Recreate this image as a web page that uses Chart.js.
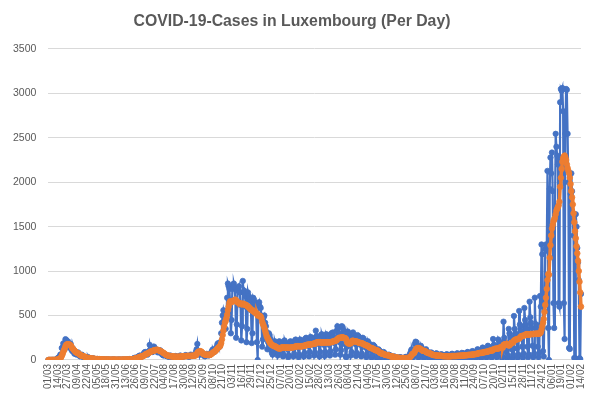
<!DOCTYPE html>
<html>
<head>
<meta charset="utf-8">
<script src="https://cdn.jsdelivr.net/npm/chart.js@4.4.1/dist/chart.umd.min.js"></script>
<style>
html,body{margin:0;padding:0;background:#fff;}
#wrap{width:597px;height:405px;position:relative;}
</style>
</head>
<body>
<div id="wrap"><canvas id="c"></canvas></div>
<script>
const chartTitle = 'COVID-19-Cases in Luxembourg (Per Day)';
const tickLabels = ['01/03','14/03','27/03','09/04','22/04','05/05','18/05','31/05','13/06','26/06','09/07','22/07','04/08','17/08','30/08','12/09','25/09','08/10','21/10','03/11','16/11','29/11','12/12','25/12','07/01','20/01','02/02','15/02','28/02','13/03','26/03','08/04','21/04','04/05','17/05','30/05','12/06','25/06','08/07','21/07','03/08','16/08','29/08','11/09','24/09','07/10','20/10','02/11','15/11','28/11','11/12','24/12','06/01','19/01','01/02','14/02'];
const tickEvery = 13;
const yTicks = [0,500,1000,1500,2000,2500,3000,3500];

// daily new cases, one row per week (Sun..Sat), from 01/03/2020 to 14/02/2022
const dailyCases = [
0,0,0,0,0,1,1,
1,0,2,2,7,12,26,
20,35,59,63,135,139,186,
152,180,234,224,190,210,160,
140,150,180,120,100,130,90,
70,95,80,60,75,85,65,
45,40,55,60,50,30,35,
25,20,30,20,35,15,20,
12,10,18,15,20,10,12,
8,5,10,12,8,6,10,
5,4,8,6,7,3,5,
4,2,6,5,3,4,2,
3,2,5,4,6,3,2,
2,1,4,3,5,2,3,
3,2,5,4,6,3,4,
4,3,6,8,10,5,7,
8,10,15,20,25,18,22,
30,25,40,45,50,40,38,
45,50,70,85,90,80,70,
60,80,100,170,120,100,90,
90,100,150,130,120,110,95,
85,90,100,110,95,70,60,
55,50,60,55,50,45,40,
40,35,45,50,40,35,30,
30,35,40,45,38,30,32,
35,40,50,45,42,35,40,
40,45,55,50,48,40,42,
35,40,60,55,50,45,48,
50,55,90,120,180,100,70,
60,65,75,70,80,55,50,
40,45,55,60,65,50,55,
60,70,90,110,120,100,90,
110,120,150,180,190,160,150,
200,300,420,500,560,520,440,
350,500,700,860,830,800,640,
300,450,800,850,860,820,680,
250,400,780,800,830,760,620,
220,380,890,760,780,720,600,
200,350,760,720,700,680,560,
190,300,700,680,650,620,530,
200,0,620,650,600,585,500,
150,230,480,500,420,380,300,
120,200,300,280,240,110,80,
60,110,200,210,180,90,100,
50,80,210,200,190,160,110,
40,60,220,190,180,170,120,
30,50,200,210,190,180,130,
40,70,220,230,200,190,140,
30,60,230,210,220,200,150,
40,80,240,250,230,210,160,
40,90,260,240,250,230,170,
50,80,330,270,260,240,180,
40,90,280,290,260,250,170,
45,90,290,270,280,240,170,
50,100,300,290,310,260,190,
60,120,330,380,360,300,200,
60,110,380,370,340,280,180,
40,30,150,320,300,270,200,
50,90,300,310,280,250,180,
45,80,280,270,260,230,170,
40,70,250,240,220,200,140,
30,60,210,190,180,160,110,
25,50,170,160,150,120,90,
20,30,120,110,100,80,60,
15,25,90,80,70,60,45,
10,20,60,55,50,45,30,
8,15,40,35,35,30,20,
5,12,30,28,30,25,15,
5,10,25,30,35,30,20,
10,20,60,80,110,120,90,
30,60,180,206,200,160,110,
25,50,150,160,140,120,80,
20,40,110,120,100,90,60,
15,30,80,85,75,65,45,
10,25,70,75,65,55,40,
10,20,65,60,60,50,35,
10,15,60,65,55,50,30,
10,20,65,70,60,50,35,
10,20,70,75,65,55,40,
10,25,80,75,75,60,40,
15,25,85,90,80,65,45,
15,30,100,95,90,80,50,
20,35,120,115,110,95,60,
20,40,140,130,125,110,70,
25,45,160,150,145,130,80,
25,50,236,170,165,150,90,
30,55,230,210,200,180,100,
20,40,431,250,200,180,90,
20,50,350,300,280,250,120,
20,60,495,350,300,280,130,
25,60,552,400,380,330,150,
25,70,585,450,400,350,150,
30,60,656,480,420,360,160,
30,70,701,360,400,350,150,
30,80,720,600,1300,1190,100,
40,552,1250,1300,1230,2128,360,
0,1925,2278,2100,2334,1900,640,
360,1600,2545,2400,2300,2200,640,
600,2900,3050,3030,3060,2800,640,
236,2545,3050,3040,2545,2000,135,
124,1869,2100,1900,1565,1400,23,
20,1640,1500,1261,1100,900,20,
10,743
];

// 7-day average, same layout
const weeklyAverage = [
0,0,0,0,0,0,0,
0,0,1,1,2,4,7,
10,13,20,28,47,65,90,
110,130,155,170,175,178,176,
175,170,165,150,135,125,115,
105,95,88,82,78,75,70,
62,55,50,48,45,42,40,
35,30,27,24,22,22,21,
19,17,16,15,14,14,13,
11,10,9,9,8,8,8,
7,6,6,6,5,5,5,
5,4,4,4,4,4,3,
3,3,3,4,4,4,3,
3,3,3,3,3,3,3,
3,3,4,4,4,4,4,
4,4,5,5,6,6,6,
7,8,10,12,15,17,19,
22,24,28,31,35,38,38,
40,44,48,54,60,66,70,
72,75,80,88,92,95,98,
102,105,110,108,112,115,114,
113,111,105,102,98,92,87,
82,77,70,64,58,54,51,
48,46,44,43,42,41,39,
38,38,37,37,36,36,36,
36,37,38,38,39,40,41,
42,42,43,44,45,45,46,
45,45,46,46,47,48,48,
49,50,54,62,80,90,95,
97,99,96,88,75,68,65,
62,59,57,58,60,58,56,
58,62,68,76,84,90,93,
100,108,118,128,138,145,151,
165,190,230,280,330,380,420,
440,470,510,560,600,640,660,
655,650,660,665,668,672,680,
670,655,650,645,640,636,634,
630,625,635,630,625,622,621,
615,605,600,595,585,575,567,
565,555,548,543,537,530,524,
525,500,503,500,495,490,470,
430,405,385,360,330,300,270,
251,235,220,205,190,180,170,
165,160,158,155,150,145,140,
135,130,131,130,131,141,143,
141,140,141,140,139,140,140,
139,138,137,140,141,142,141,
143,146,149,152,153,154,156,
155,154,155,152,155,156,157,
158,161,162,168,170,171,173,
173,174,177,175,178,181,183,
184,183,193,197,198,199,201,
200,201,194,197,197,198,197,
198,198,199,197,200,198,198,
199,200,201,204,208,211,214,
215,218,222,235,242,248,250,
250,249,256,254,251,248,246,
243,231,198,191,185,184,187,
188,196,217,216,213,210,209,
208,207,204,198,195,192,191,
190,188,184,180,174,170,166,
164,162,156,149,143,137,134,
133,131,125,120,116,110,109,
108,105,98,90,83,77,74,
72,71,67,63,59,56,55,
54,53,49,45,42,40,39,
38,37,34,31,28,27,26,
25,25,23,22,21,21,21,
21,21,20,20,21,22,22,
23,24,29,36,47,60,70,
73,79,96,113,126,132,134,
133,131,127,121,112,106,104,
103,102,97,91,85,81,77,
76,75,71,66,62,58,56,
55,54,52,51,49,48,49,
49,48,47,45,44,43,43,
43,42,41,42,41,41,41,
41,42,43,44,44,44,44,
44,44,45,46,46,47,48,
48,49,50,50,51,52,52,
53,53,54,56,57,57,58,
58,59,61,62,63,65,66,
67,68,71,74,77,79,79,
79,80,83,85,87,89,91,
92,93,96,99,102,105,105,
105,106,117,120,123,126,127,
128,129,128,134,139,143,144,
142,140,169,175,175,175,173,
173,174,162,166,177,187,196,
196,197,217,224,227,231,234,
235,235,243,250,261,268,271,
271,272,277,284,287,290,290,
285,286,288,290,291,292,292,
292,293,294,295,295,296,296,
295,296,300,310,340,380,420,
460,540,620,700,800,900,965,
960,1150,1290,1400,1480,1520,1560,
1580,1600,1640,1680,1700,1720,1740,
1780,1950,2050,2150,2230,2270,2290,
2300,2280,2250,2200,2160,2130,2100,
2050,1980,1900,1830,1750,1650,1550,
1450,1370,1280,1200,1115,1000,880,
760,600
];

const categories = dailyCases.map((_, i) => (i % tickEvery === 0 ? tickLabels[i / tickEvery] : ''));

const gray = '#595959';
const fam = "'Liberation Sans', Arial, sans-serif";
new Chart(document.getElementById('c'), {
  type: 'line',
  data: {
    labels: categories,
    datasets: [
      {
        label: 'Cases',
        data: dailyCases,
        borderColor: '#4472C4',
        backgroundColor: '#4472C4',
        borderWidth: 2.2,
        pointRadius: 2.7,
        pointBorderWidth: 0.8,
        pointBackgroundColor: '#4472C4',
        pointBorderColor: '#4472C4',
        tension: 0,
        order: 2
      },
      {
        label: '7-day average',
        data: weeklyAverage,
        borderColor: '#ED7D31',
        backgroundColor: '#ED7D31',
        borderWidth: 3.5,
        pointRadius: 2.8,
        pointBorderWidth: 0.8,
        pointBackgroundColor: '#ED7D31',
        pointBorderColor: '#ED7D31',
        tension: 0,
        order: 1
      }
    ]
  },
  options: {
    responsive: true,
    maintainAspectRatio: false,
    animation: false,
    layout: { padding: { left: 1, right: 14, top: 6, bottom: 12 } },
    plugins: {
      legend: { display: false },
      tooltip: { enabled: false },
      title: {
        display: true,
        text: chartTitle,
        color: gray,
        font: { family: fam, size: 15.8, weight: 'bold' },
        padding: { top: 6, bottom: 18 }
      }
    },
    scales: {
      x: {
        grid: { display: false, drawTicks: false },
        border: { display: true, color: '#d9d9d9' },
        ticks: {
          autoSkip: false,
          minRotation: 90,
          maxRotation: 90,
          padding: 4,
          color: gray,
          font: { family: fam, size: 10 },
          callback: function (v) {
            const l = this.getLabelForValue(v);
            return l === '' ? null : l;
          }
        }
      },
      y: {
        min: yTicks[0],
        max: yTicks[yTicks.length - 1],
        afterBuildTicks: (axis) => { axis.ticks = yTicks.map(v => ({ value: v })); },
        grid: { color: '#d9d9d9', drawTicks: false },
        border: { display: false },
        ticks: {
          padding: 12,
          color: gray,
          font: { family: fam, size: 10.5 },
          callback: (v) => String(v)
        }
      }
    }
  }
});
</script>
</body>
</html>
